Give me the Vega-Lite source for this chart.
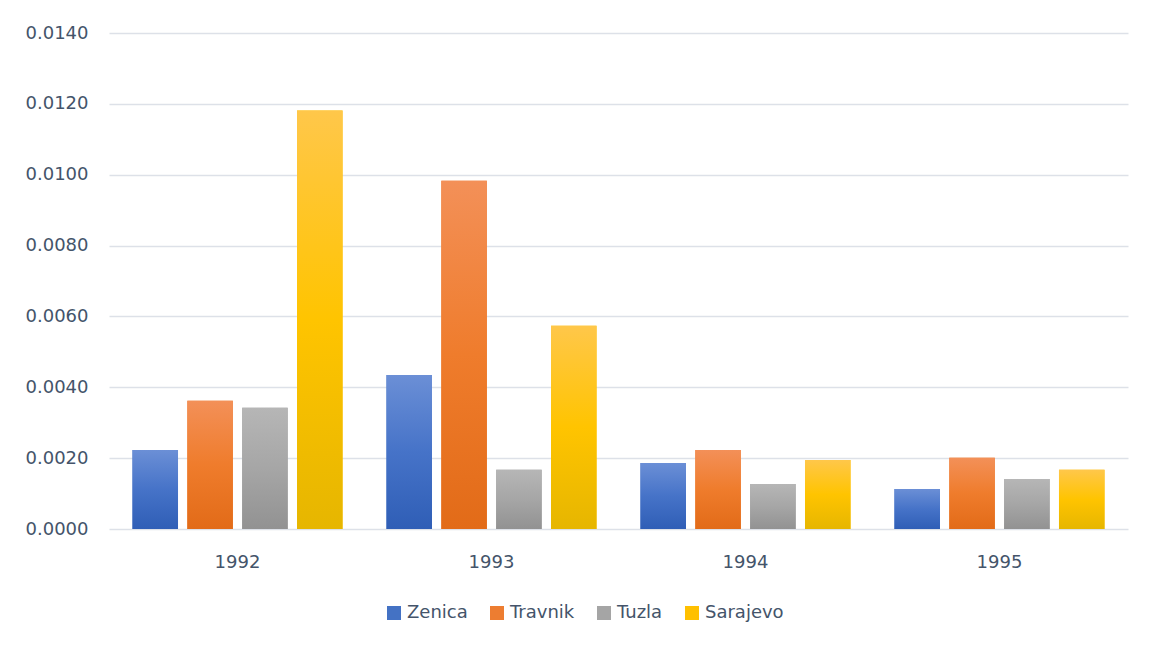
{
  "$schema": "https://vega.github.io/schema/vega-lite/v6.json",
  "width": 1019,
  "height": 496,
  "autosize": "none",
  "padding": {"left": 109, "top": 33, "right": 26, "bottom": 118},
  "background": "white",
  "data": {
    "values": [
      {"year": "1992", "city": "Zenica", "value": 0.00223},
      {"year": "1992", "city": "Travnik", "value": 0.00362},
      {"year": "1992", "city": "Tuzla", "value": 0.00342},
      {"year": "1992", "city": "Sarajevo", "value": 0.01181},
      {"year": "1993", "city": "Zenica", "value": 0.00435},
      {"year": "1993", "city": "Travnik", "value": 0.00983},
      {"year": "1993", "city": "Tuzla", "value": 0.00167},
      {"year": "1993", "city": "Sarajevo", "value": 0.00574},
      {"year": "1994", "city": "Zenica", "value": 0.00186},
      {"year": "1994", "city": "Travnik", "value": 0.00223},
      {"year": "1994", "city": "Tuzla", "value": 0.00127},
      {"year": "1994", "city": "Sarajevo", "value": 0.00195},
      {"year": "1995", "city": "Zenica", "value": 0.00113},
      {"year": "1995", "city": "Travnik", "value": 0.00201},
      {"year": "1995", "city": "Tuzla", "value": 0.00141},
      {"year": "1995", "city": "Sarajevo", "value": 0.00167}
    ]
  },
  "encoding": {
    "x": {
      "field": "year",
      "type": "nominal",
      "title": null,
      "scale": {"paddingInner": 0.173, "paddingOuter": 0.0925},
      "axis": {
        "labelAngle": 0,
        "domain": false,
        "ticks": false,
        "labelPadding": 24,
        "labelFont": "DejaVu Sans",
        "labelFontSize": 18,
        "labelColor": "#44546a"
      }
    },
    "xOffset": {
      "field": "city",
      "type": "nominal",
      "sort": ["Zenica", "Travnik", "Tuzla", "Sarajevo"],
      "scale": {"paddingInner": 0.17, "paddingOuter": 0}
    },
    "y": {
      "field": "value",
      "type": "quantitative",
      "title": null,
      "scale": {"domain": [0, 0.014], "nice": false},
      "axis": {
        "values": [0, 0.002, 0.004, 0.006, 0.008, 0.01, 0.012, 0.014],
        "format": ".4f",
        "domain": false,
        "ticks": false,
        "labelPadding": 21,
        "labelFont": "DejaVu Sans",
        "labelFontSize": 18,
        "labelColor": "#44546a",
        "gridColor": "#dde1e8",
        "gridWidth": 1.5
      }
    }
  },
  "layer": [
    {
      "mark": {"type": "bar"},
      "encoding": {
        "color": {
          "field": "city",
          "type": "nominal",
          "sort": ["Zenica", "Travnik", "Tuzla", "Sarajevo"],
          "scale": {
            "domain": ["Zenica", "Travnik", "Tuzla", "Sarajevo"],
            "range": ["#4472c4", "#ed7d31", "#a5a5a5", "#ffc000"]
          },
          "legend": {
            "title": null,
            "orient": "none",
            "direction": "horizontal",
            "legendX": 276,
            "legendY": 571,
            "symbolType": "square",
            "symbolSize": 196,
            "symbolStrokeWidth": 0,
            "symbolOpacity": 1,
            "labelFont": "DejaVu Sans",
            "labelFontSize": 18,
            "labelColor": "#44546a",
            "labelOffset": 4,
            "columnPadding": 20
          }
        }
      }
    },
    {
      "mark": {"type": "bar", "strokeWidth": 0},
      "encoding": {
        "fill": {
          "condition": [
            {
              "test": "datum.city === 'Zenica'",
              "value": {
                "gradient": "linear", "x1": 0, "y1": 0, "x2": 0, "y2": 1,
                "stops": [
                  {"offset": 0, "color": "#6b8fd6"},
                  {"offset": 0.5, "color": "#4673c8"},
                  {"offset": 1, "color": "#2f5eb6"}
                ]
              }
            },
            {
              "test": "datum.city === 'Travnik'",
              "value": {
                "gradient": "linear", "x1": 0, "y1": 0, "x2": 0, "y2": 1,
                "stops": [
                  {"offset": 0, "color": "#f39058"},
                  {"offset": 0.5, "color": "#ef7c2c"},
                  {"offset": 1, "color": "#e26b18"}
                ]
              }
            },
            {
              "test": "datum.city === 'Tuzla'",
              "value": {
                "gradient": "linear", "x1": 0, "y1": 0, "x2": 0, "y2": 1,
                "stops": [
                  {"offset": 0, "color": "#b6b6b6"},
                  {"offset": 0.5, "color": "#a6a6a6"},
                  {"offset": 1, "color": "#929292"}
                ]
              }
            }
          ],
          "value": {
            "gradient": "linear", "x1": 0, "y1": 0, "x2": 0, "y2": 1,
            "stops": [
              {"offset": 0, "color": "#ffc74a"},
              {"offset": 0.5, "color": "#ffc400"},
              {"offset": 1, "color": "#e6b600"}
            ]
          }
        }
      }
    }
  ],
  "config": {
    "view": {"stroke": null},
    "font": "DejaVu Sans"
  }
}
